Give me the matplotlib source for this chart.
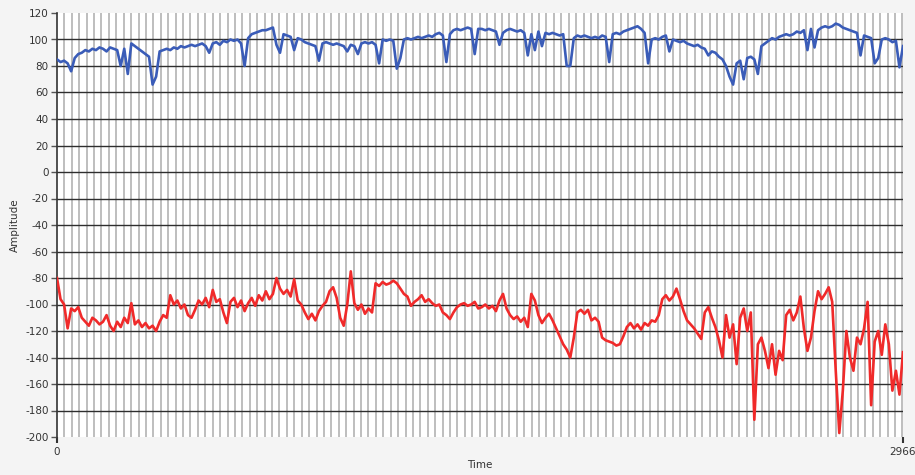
import numpy as np
import matplotlib
matplotlib.use("Agg")
import matplotlib.pyplot as plt

# ---- data ----
t_max = 2966
blue_values = [
    85, 83, 84, 82, 76, 86, 89, 90, 92, 91, 93, 92, 94, 93, 91, 94, 93, 92, 80, 93,
    74, 97, 95, 93, 91, 89, 87, 66, 72, 91, 92, 93, 92, 94, 93, 95, 94, 95, 96, 95,
    96, 97, 95, 90, 97, 98, 96, 99, 98, 100, 99, 100, 97, 80, 101, 104, 105, 106, 107, 107,
    108, 109, 96, 90, 104, 103, 102, 92, 101, 100, 98, 97, 96, 95, 84, 97, 98, 97, 96, 97,
    96, 95, 91, 96, 95, 89, 97, 98, 97, 98, 96, 82, 100, 99, 100, 99, 78, 86, 100, 101,
    100, 101, 102, 101, 102, 103, 102, 104, 105, 103, 83, 104, 107, 108, 107, 108, 109, 108, 89, 108,
    108, 107, 108, 107, 106, 96, 105, 107, 108, 107, 106, 107, 105, 88, 104, 92, 106, 95, 105, 104,
    105, 104, 103, 104, 80, 80, 101, 103, 102, 103, 102, 101, 102, 101, 103, 102, 83, 104, 105, 104,
    106, 107, 108, 109, 110, 108, 105, 82, 100, 101, 100, 102, 103, 91, 100, 99, 98, 99, 97, 96,
    95, 96, 94, 93, 88, 91, 90, 87, 85, 80, 72, 66, 82, 84, 70, 86, 87, 85, 74, 95,
    97, 99, 101, 100, 102, 103, 104, 103, 104, 106, 105, 107, 92, 108, 94, 107, 109, 110, 109, 110,
    112, 111, 109, 108, 107, 106, 105, 88, 103, 102, 101, 82, 86, 100, 101, 100, 98, 99, 79, 95,
]
red_values = [
    -80, -96, -100, -118, -103, -105, -102, -110, -113, -116, -110, -112, -115, -113, -108, -116, -120, -113, -117, -110,
    -114, -99, -115, -112, -117, -114, -118, -116, -120, -113, -108, -110, -93, -100, -97, -103, -100, -108, -110, -104,
    -97, -100, -95, -102, -89, -98, -96, -106, -114, -98, -95, -102, -97, -105, -99, -95, -101, -93, -97, -90,
    -96, -92, -80, -88, -92, -89, -94, -81, -97, -100, -106, -111, -107, -112, -105, -101, -98, -90, -87, -95,
    -110, -116, -100, -75, -99, -104, -100, -107, -103, -106, -84, -86, -83, -85, -84, -82, -84, -88, -92, -94,
    -101, -98, -96, -93, -98, -96, -99, -101, -100, -106, -108, -111, -106, -102, -100, -99, -101, -100, -98, -103,
    -102, -100, -103, -101, -105, -97, -92, -103, -108, -111, -109, -113, -110, -117, -92, -97, -108, -114, -110, -107,
    -112, -118, -124, -130, -134, -140, -125, -106, -104, -107, -104, -112, -110, -113, -125, -127, -128, -129, -131, -130,
    -124, -117, -114, -118, -115, -119, -114, -116, -112, -113, -108, -96, -93, -97, -94, -88, -96, -105, -112, -115,
    -118, -122, -126, -106, -102, -110, -117, -127, -140, -108, -125, -115, -145, -110, -103, -120, -106, -187, -130, -125,
    -135, -148, -130, -153, -135, -142, -108, -104, -112, -106, -94, -118, -135, -125, -105, -90, -96, -92, -87, -98,
    -150, -197, -165, -120, -140, -150, -125, -130, -118, -98, -176, -128, -120, -138, -115, -130, -165, -150, -168, -136,
]
y_ticks = list(range(-200, 121, 20))
x_tick_labels = ["0", "2966"]
grid_step = 26

time_blue = np.linspace(0, t_max, len(blue_values))
time_red = np.linspace(0, t_max, len(red_values))

fig = plt.figure(figsize=(9.15, 4.75), dpi=100)
fig.patch.set_facecolor("#f4f4f4")
ax = fig.add_axes([57 / 915, 1 - 437 / 475, (903 - 57) / 915, (437 - 13) / 475])
ax.set_facecolor("white")

# vertical grid lines
for gx in np.arange(grid_step, t_max, grid_step):
    ax.axvline(gx, color="#acacac", lw=1.1, zorder=1)
# horizontal grid lines
for gy in range(-180, 101, 20):
    ax.axhline(gy, color="#2e2e2e", lw=1.0, zorder=1.5)

ax.plot(time_blue, blue_values, color="#3a5cb8", lw=1.9, zorder=3)
ax.plot(time_red, red_values, color="#f02a2a", lw=1.9, zorder=3)

ax.set_xlim(0, t_max)
ax.set_ylim(-200, 120)
ax.set_yticks(y_ticks)
ax.set_yticklabels([str(v) for v in y_ticks])
ax.set_xticks([0, t_max])
ax.set_xticklabels(x_tick_labels)

for s in ["top", "right", "bottom"]:
    ax.spines[s].set_visible(False)
ax.spines["left"].set_color("#333333")
ax.spines["left"].set_linewidth(1.2)

ax.tick_params(axis="y", length=4, width=1, color="#555555", labelsize=7.5,
               labelcolor="#333333", pad=2)
ax.tick_params(axis="x", length=4, width=1.5, color="#333333", labelsize=7.5,
               labelcolor="#333333", pad=3)

ax.set_xlabel("Time", fontsize=7.5, color="#333333", labelpad=2)
ax.set_ylabel("Amplitude", fontsize=7.5, color="#333333", labelpad=4)

fig.savefig("out.png", dpi=100, facecolor=fig.get_facecolor())
